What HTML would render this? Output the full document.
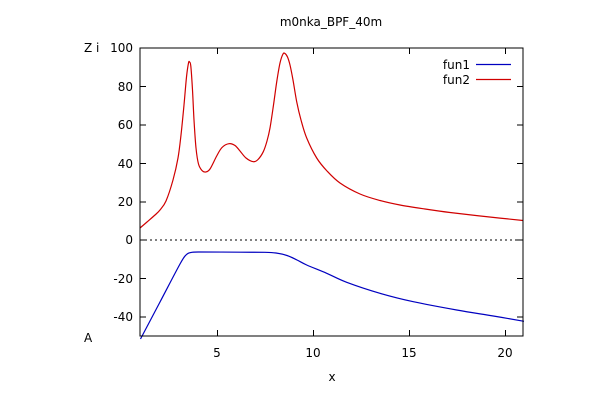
<!DOCTYPE html>
<html><head><style>
body{margin:0;background:#fff;}
svg text{font-family:"DejaVu Sans","Liberation Sans",sans-serif;font-size:12px;fill:#000;}
</style></head><body>
<svg width="602" height="407" viewBox="0 0 602 407" xmlns="http://www.w3.org/2000/svg">
<rect width="602" height="407" fill="#fff"/>
<text x="331" y="26" text-anchor="middle">m0nka_BPF_40m</text>
<text x="84" y="52">Z i</text>
<text x="84" y="342">A</text>
<text x="332" y="381" text-anchor="middle">x</text>
<g text-anchor="end">
<text x="133" y="52">100</text>
<text x="133" y="91">80</text>
<text x="133" y="129">60</text>
<text x="133" y="168">40</text>
<text x="133" y="206">20</text>
<text x="133" y="244">0</text>
<text x="133" y="283">-20</text>
<text x="133" y="321">-40</text>
</g>
<g text-anchor="middle">
<text x="217" y="357">5</text>
<text x="313" y="357">10</text>
<text x="409" y="357">15</text>
<text x="505" y="357">20</text>
</g>
<line x1="140" y1="240" x2="523" y2="240" stroke="#000" stroke-width="1" stroke-dasharray="2,3"/>
<g stroke="#000" stroke-width="1">
<line x1="140" y1="86.5" x2="146" y2="86.5"/><line x1="517" y1="86.5" x2="523" y2="86.5"/>
<line x1="140" y1="125" x2="146" y2="125"/><line x1="517" y1="125" x2="523" y2="125"/>
<line x1="140" y1="163.5" x2="146" y2="163.5"/><line x1="517" y1="163.5" x2="523" y2="163.5"/>
<line x1="140" y1="202" x2="146" y2="202"/><line x1="517" y1="202" x2="523" y2="202"/>
<line x1="140" y1="240" x2="146" y2="240"/><line x1="517" y1="240" x2="523" y2="240"/>
<line x1="140" y1="278.5" x2="146" y2="278.5"/><line x1="517" y1="278.5" x2="523" y2="278.5"/>
<line x1="140" y1="317" x2="146" y2="317"/><line x1="517" y1="317" x2="523" y2="317"/>
<line x1="217.5" y1="336" x2="217.5" y2="330"/><line x1="217.5" y1="48" x2="217.5" y2="54"/>
<line x1="313.5" y1="336" x2="313.5" y2="330"/><line x1="313.5" y1="48" x2="313.5" y2="54"/>
<line x1="409.5" y1="336" x2="409.5" y2="330"/><line x1="409.5" y1="48" x2="409.5" y2="54"/>
<line x1="505.5" y1="336" x2="505.5" y2="330"/><line x1="505.5" y1="48" x2="505.5" y2="54"/>
</g>
<path id="red" fill="none" stroke="#d00000" stroke-width="1.2" stroke-linejoin="round" d=""/>
<path id="blue" fill="none" stroke="#0000c0" stroke-width="1.2" stroke-linejoin="round" d=""/>
<rect x="140" y="48" width="383" height="288" fill="none" stroke="#000" stroke-width="1"/>
<text x="470" y="69" text-anchor="end">fun1</text>
<line x1="476" y1="64.5" x2="511" y2="64.5" stroke="#0000c0" stroke-width="1.2"/>
<text x="470" y="84" text-anchor="end">fun2</text>
<line x1="476" y1="79.5" x2="511" y2="79.5" stroke="#d00000" stroke-width="1.2"/>
</svg>
<script>
function cr(p){var d="M"+p[0][0]+","+p[0][1];for(var i=0;i<p.length-1;i++){var a=p[i-1]||p[i],b=p[i],c=p[i+1],e=p[i+2]||c;
d+=" C"+(b[0]+(c[0]-a[0])/6).toFixed(2)+","+(b[1]+(c[1]-a[1])/6).toFixed(2)+" "+(c[0]-(e[0]-b[0])/6).toFixed(2)+","+(c[1]-(e[1]-b[1])/6).toFixed(2)+" "+c[0]+","+c[1];}return d;}
var R=[[140,228],[147,222],[155,215],[160,210],[166,201],[173,180],[178,158],[181,135],[184,105],[186.5,77],[188.5,63],[189.5,62],[190.8,66],[192.5,90],[194,120],[196,148],[198.5,164],[202,170.5],[205.7,172],[210,169],[216.7,156],[222,147.5],[229,143.7],[235,145.5],[240,151],[246,158],[253.3,161.7],[258,159.5],[263.3,151.7],[267,141],[270,128],[273.5,105],[276.7,82],[280,63],[283,54],[285,53.5],[287.5,57],[290,65],[293,80],[296.7,101.7],[301,120],[306.7,138],[316.7,158],[327,171],[340,183],[360,194],[380,200.5],[400,205],[425,209],[450,212.5],[485,216.5],[523,220.5]];
var B=[[140.5,339],[160,302],[180,264],[186,255],[191,252.5],[200,252],[240,252.2],[265,252.3],[276,253],[287,255.5],[297,260],[306.7,265],[326.7,273.3],[346.7,282.3],[380,293.3],[413.3,301.7],[456.7,310],[493.3,316],[524,321.3]];
document.getElementById("red").setAttribute("d",cr(R));
document.getElementById("blue").setAttribute("d",cr(B));
</script>
</body></html>
